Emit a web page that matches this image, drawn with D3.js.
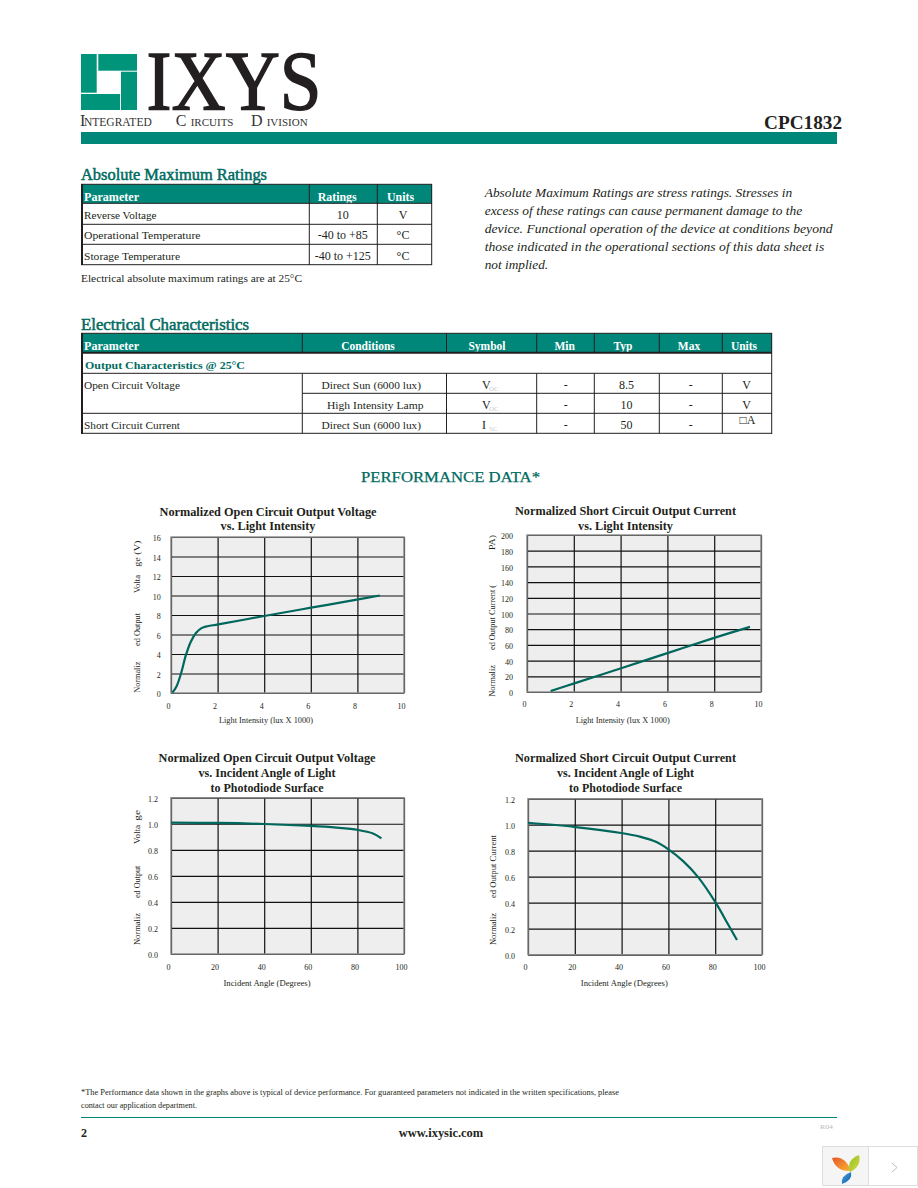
<!DOCTYPE html>
<html><head><meta charset="utf-8">
<style>html,body{margin:0;padding:0;background:#fff}svg{display:block}text{font-family:"Liberation Serif",serif;fill:#231f20}</style>
<script src="https://cdn.jsdelivr.net/npm/d3@7/dist/d3.min.js"></script>
</head><body><svg id="page" width="918" height="1188"></svg>
<script>
// ---- chart data ----
const lightTicks = [0,2,4,6,8,10];
const angleTicks = [0,20,40,60,80,100];
const voltTicks = [0,2,4,6,8,10,12,14,16];
const currentTicks = [0,20,40,60,80,100,120,140,160,180,200];
const normTicks = [0,0.2,0.4,0.6,0.8,1.0,1.2];

const vocLightX = [0.06,0.24,0.43,0.63,0.84,1.07,1.31,1.56,2.03,4.0,6.01,8.03,8.96];
const vocLightY = [0.03,0.7,2.0,3.8,5.2,6.15,6.65,6.85,7.03,7.9,8.75,9.6,10.0];
const iscLightX = [1.01,2.02,3.99,6.0,8.0,9.53];
const iscLightY = [1.3,11.0,30.0,49.5,69,83];
const vocAngleX = [0,20,40,60,71,80.3,86.7,90.3];
const vocAngleY = [1.008,1.006,0.998,0.983,0.97,0.952,0.925,0.888];
const iscAngleX = [0,20.3,39.8,47.8,54.9,60,66.3,72.8,80.2,85.6,89.3];
const iscAngleY = [1.015,0.982,0.936,0.908,0.866,0.81,0.72,0.595,0.4,0.23,0.113];

// ---- table text ----
const ratingHead = ["Parameter","Ratings","Units"];
const ratingParams = ["Reverse Voltage","Operational Temperature","Storage Temperature"];
const ratingValues = ["10","-40 to +85","-40 to +125"];
const ratingUnits = ["V","°C","°C"];
const elecHead = ["Parameter","Conditions","Symbol","Min","Typ","Max","Units"];
const elecParams = ["Open Circuit Voltage","","Short Circuit Current"];
const elecConds = ["Direct Sun (6000 lux)","High Intensity Lamp","Direct Sun (6000 lux)"];
const elecSyms = ["V","V","I"];
const elecSubs = ["OC","OC","SC"];
const elecTyp = ["8.5","10","50"];
const elecUnits = ["V","V","□A"];
const noteLines = ["Absolute Maximum Ratings are stress ratings. Stresses in",
 "excess of these ratings can cause permanent damage to the",
 "device. Functional operation of the device at conditions beyond",
 "those indicated in the operational sections of this data sheet is",
 "not implied."];

const TEAL="#00877a", DARK="#006b5f", LINE="#00675c", INK="#231f20";
const svg=d3.select("#page");

function T(x,y,s,o={}){
  const n=svg.append("text").attr("x",x).attr("y",y).text(s)
   .attr("font-size",o.size||11).attr("text-anchor",o.anchor||"start");
  if(o.bold) n.attr("font-weight","bold");
  if(o.italic) n.attr("font-style","italic");
  if(o.fill) n.style("fill",o.fill);
  if(o.heavy) n.style("stroke",o.fill||INK).style("stroke-width",o.heavy);
  if(o.len) n.attr("textLength",o.len).attr("lengthAdjust",o.adjust||"spacingAndGlyphs");
  return n;
}
function L(x1,y1,x2,y2,w=1,c=INK){svg.append("line").attr("x1",x1).attr("y1",y1).attr("x2",x2).attr("y2",y2).attr("stroke",c).attr("stroke-width",w);}
function R(x,y,w,h,c){svg.append("rect").attr("x",x).attr("y",y).attr("width",w).attr("height",h).attr("fill",c);}

// ---- header ----
const LOGO="#00947a";
R(81,54,15.7,38.7,LOGO);R(98.3,54,38.7,16.7,LOGO);R(121,71.7,16,38.3,LOGO);R(81,94,39,16,LOGO);
T(146.5,110,"IXYS",{size:85,len:175,fill:"#231f20",heavy:1.5});
const div=svg.append("text").attr("y",125.7).style("fill","#333");
[["I",16,80],["NTEGRATED",11.5,84],["C",16,175.7],["IRCUITS",11,190.7],["D",16,251],["IVISION",11,266.7]].forEach(r=>{
  div.append("tspan").attr("x",r[2]).attr("font-size",r[1]).text(r[0]);
});
T(764,129,"CPC1832",{size:18,bold:true,len:78});
R(81,132,756,12,TEAL);

// ---- absolute maximum ratings ----
T(81,180,"Absolute Maximum Ratings",{size:16,fill:DARK,len:186,heavy:0.5});
R(81,184.3,351,19,TEAL);
[[84,55],[317.7,39],[387,27]].forEach((p,i)=>T(p[0],200.7,ratingHead[i],{bold:true,size:11.5,fill:"#fff",len:p[1]}));
[184.3,203.3,224.3,244.3,264.7].forEach(y=>L(81,y,432,y));
L(82,184,82,265,2);L(309.3,184,309.3,265);L(377.3,184,377.3,265);L(431.7,184,431.7,265);
const rBase=[219,239,260],rLen=[72.5,116.5,96];
ratingParams.forEach((s,i)=>T(84,rBase[i],s,{len:rLen[i]}));
ratingValues.forEach((s,i)=>T(342.7,rBase[i],s,{anchor:"middle",size:12}));
ratingUnits.forEach((s,i)=>T(403,rBase[i],s,{anchor:"middle",size:12}));
T(81,281.7,"Electrical absolute maximum ratings are at 25°C",{len:221});

const noteBase=[196.7,215,233,251,269],noteLen=[307.5,317.5,348,339.5,63.5];
noteLines.forEach((s,i)=>T(484.7,noteBase[i],s,{italic:true,size:13,len:noteLen[i]}));

// ---- electrical characteristics ----
T(81,330,"Electrical Characteristics",{size:16,fill:DARK,len:168,heavy:0.5});
R(81,333.3,691,19.4,TEAL);
const colX=[302.3,446.5,536.7,594.3,659.3,722.3];
const headC=[null,368,487,564.7,623,689,744];
T(84,350,elecHead[0],{bold:true,size:11.5,fill:"#fff",len:55});
elecHead.slice(1).forEach((s,i)=>T(headC[i+1],350,s,{bold:true,size:11.5,fill:"#fff",anchor:"middle"}));
L(81,333.3,772,333.3);L(81,352.7,772,352.7,2);L(81,373.3,772,373.3);L(302.3,393.3,772,393.3);L(81,413.3,772,413.3);L(81,433.3,772,433.3);
L(82,333,82,434,2);L(771.7,333,771.7,434);
colX.forEach(x=>{L(x,333,x,352.7);L(x,373.3,x,433.3);});
T(85,369,"Output Characteristics @ 25°C",{bold:true,fill:DARK,len:160});
const eBase=[389,409,429],cX=[321.6,327,321.6],cLen=[99.5,96.5,99.5];
elecParams.forEach((s,i)=>{if(s)T(84,eBase[i],s,{len:96});});
elecConds.forEach((s,i)=>T(cX[i],eBase[i],s,{len:cLen[i]}));
elecSyms.forEach((s,i)=>{T(482,eBase[i],s,{size:12});T(489,eBase[i]+2,elecSubs[i],{size:7,fill:"#ccc"});});
eBase.forEach((y,i)=>{T(565.7,y,"-",{anchor:"middle",size:12});T(690.7,y,"-",{anchor:"middle",size:12});
  T(626.5,y,elecTyp[i],{anchor:"middle",size:12});
  T(i==2?747.5:746.7,i==2?424.3:y,elecUnits[i],{anchor:"middle",size:12});});

T(450.5,482,"PERFORMANCE DATA*",{size:15,fill:DARK,anchor:"middle",len:179,heavy:0.25});

// ---- charts ----
function chart(o){
  const [l,t,r,b]=o.box,w=r-l,h=b-t;
  o.title.forEach((s,i)=>T(o.tc,o.tb[i],s,{bold:true,size:11.5,anchor:"middle",len:o.tl[i]}));
  const x=d3.scaleLinear().domain(o.xd).range([0,w]);
  const y=d3.scaleLinear().domain(o.yd).range([h,0]);
  const g=svg.append("g").attr("transform",`translate(${l},${t})`);
  g.append("rect").attr("width",w).attr("height",h).attr("fill","#eeeeee");
  const ax=g.append("g").attr("transform",`translate(0,${h})`).call(d3.axisBottom(x).tickValues(o.xt).tickSize(-h));
  const ay=g.append("g").call(d3.axisLeft(y).tickValues(o.yt).tickSize(-w).tickFormat(o.yf));
  [ax,ay].forEach(a=>{a.select(".domain").remove();
    a.selectAll("line").attr("stroke","#111").attr("stroke-width",1.2);
    a.selectAll("text").attr("font-size",8).attr("font-family","Liberation Serif").style("fill",INK);});
  ax.selectAll("text").attr("y",o.xly).attr("dy",0).attr("dx",-3);
  ay.selectAll("text").attr("x",o.ylx).attr("dy","0.45em").attr("text-anchor","end");
  g.append("rect").attr("width",w).attr("height",h).attr("fill","none").attr("stroke","#8a8a8a").attr("stroke-width",1.4);
  const pts=o.xs.map((v,i)=>[v,o.ys[i]]);
  g.append("path").attr("d",d3.line().x(d=>x(d[0])).y(d=>y(d[1])).curve(d3.curveCatmullRom.alpha(0.5))(pts))
    .attr("fill","none").attr("stroke",LINE).attr("stroke-width",2.2);
  T(o.xc,o.xb,o.xlabel,{size:8,anchor:"middle",len:o.xlen});
  o.ylabel.forEach(p=>{
    svg.append("text").attr("transform",`translate(${o.ylb},${p[1]}) rotate(-90)`).text(p[0])
      .attr("font-size",8).attr("textLength",p[1]-p[2]).attr("lengthAdjust","spacingAndGlyphs");
  });
}
const f0=d3.format("d"),f1=d3.format(".1f");
const lightLabel="Light Intensity (lux X 1000)",angleLabel="Incident Angle (Degrees)";
chart({box:[171,537,404,693],xs:vocLightX,ys:vocLightY,xd:[0,10],yd:[0,16],xt:lightTicks,yt:voltTicks,yf:f0,
  title:["Normalized Open Circuit Output Voltage","vs. Light Intensity"],tc:268,tb:[516,530],tl:[217,95],
  xly:16,ylx:-10.3,xc:266,xb:723,xlabel:lightLabel,xlen:94,ylb:140,
  ylabel:[["Normaliz",692.7,661.7],["ed Output",646,613],["Volta",593,575],["ge (V)",566.7,540.7]]});
chart({box:[527,535,761,692],xs:iscLightX,ys:iscLightY,xd:[0,10],yd:[0,200],xt:lightTicks,yt:currentTicks,yf:f0,
  title:["Normalized Short Circuit Output Current","vs. Light Intensity"],tc:625.5,tb:[515,530],tl:[221,95],
  xly:15,ylx:-14,xc:622.7,xb:722.7,xlabel:lightLabel,xlen:94,ylb:495,
  ylabel:[["Normaliz",696.7,665],["ed Output Current (",650,585],["PA)",550,535]]});
chart({box:[171,797.7,404,954],xs:vocAngleX,ys:vocAngleY,xd:[0,100],yd:[0,1.2],xt:angleTicks,yt:normTicks,yf:f1,
  title:["Normalized Open Circuit Output Voltage","vs. Incident Angle of Light","to Photodiode Surface"],tc:267,tb:[762,777,792],tl:[217,137,113],
  xly:15.5,ylx:-13,xc:267,xb:986,xlabel:angleLabel,xlen:87,ylb:140,
  ylabel:[["Normaliz",945,913],["ed Output",898,865.7],["Volta",844,825],["ge",820.7,810]]});
chart({box:[528,798.7,762,954.7],xs:iscAngleX,ys:iscAngleY,xd:[0,100],yd:[0,1.2],xt:angleTicks,yt:normTicks,yf:f1,
  title:["Normalized Short Circuit Output Current","vs. Incident Angle of Light","to Photodiode Surface"],tc:625.5,tb:[762,777,792],tl:[221,137,113],
  xly:15,ylx:-13,xc:624.3,xb:986,xlabel:angleLabel,xlen:87,ylb:495.5,
  ylabel:[["Normaliz",945,913],["ed Output Current",898,835]]});

// ---- footer ----
T(81,1095,"*The Performance data shown in the graphs above is typical of device performance.  For guaranteed parameters not indicated in the written specifications, please",{size:8,len:538});
T(81,1108,"contact our application department.",{size:8,len:116});
L(81,1117.5,837,1117.5,1,TEAL);
T(81,1137,"2",{bold:true,size:12});
T(441,1137,"www.ixysic.com",{bold:true,size:12,anchor:"middle",len:84.5});
T(820,1129,"R04",{size:7,fill:"#bbb",len:13});

// ---- viewer widget, bottom right ----
svg.append("rect").attr("x",822.5).attr("y",1146.5).attr("width",95).attr("height",39).attr("fill","#fff").attr("stroke","#ddd");
svg.append("rect").attr("x",823).attr("y",1147).attr("width",45).attr("height",38).attr("fill","#f5f5f5");
L(868.5,1147,868.5,1185,1,"#ddd");
const grad=(id,a,b)=>{const g=svg.append("linearGradient").attr("id",id).attr("x1",0).attr("y1",0).attr("x2",1).attr("y2",1);
  g.append("stop").attr("offset",0).attr("stop-color",a);g.append("stop").attr("offset",1).attr("stop-color",b);};
grad("po","#e8552a","#f7b733");grad("pg","#8fc31f","#d8d84a");grad("pb","#4aa3df","#0b5cab");
svg.append("path").attr("d","M832,1158 Q845,1155 851,1171 Q836,1172 832,1158Z").attr("fill","url(#po)");
svg.append("path").attr("d","M850,1172 Q846,1160 859,1155 Q862,1166 850,1172Z").attr("fill","url(#pg)");
svg.append("path").attr("d","M851,1172 Q853,1180 842,1184 Q840,1176 851,1172Z").attr("fill","url(#pb)");
svg.append("path").attr("d","M892,1163 L897,1167.5 L892,1172").attr("fill","none").attr("stroke","#bbb");
</script></body></html>
